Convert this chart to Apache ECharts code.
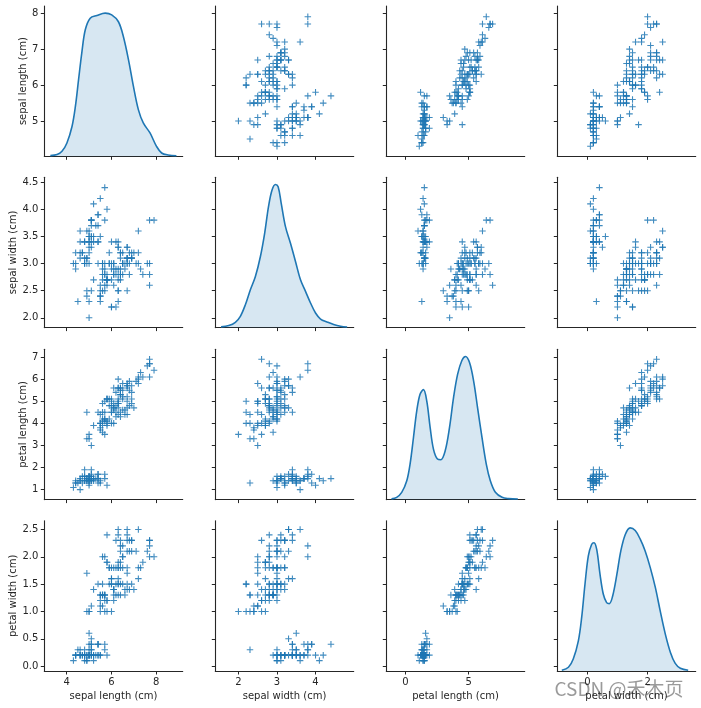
<!DOCTYPE html>
<html>
<head>
<meta charset="utf-8">
<script src="https://cdn.jsdelivr.net/npm/echarts@6/dist/echarts.min.js"></script>
<style>html,body{margin:0;padding:0;background:#fff}#chart{width:701px;height:708px}</style>
</head>
<body>
<div id="chart"></div>
<script>
// Iris measurements (150 samples)
const sepalLength = [5.1,4.9,4.7,4.6,5.0,5.4,4.6,5.0,4.4,4.9,5.4,4.8,4.8,4.3,5.8,5.7,5.4,5.1,5.7,5.1,5.4,5.1,4.6,5.1,4.8,5.0,5.0,5.2,5.2,4.7,4.8,5.4,5.2,5.5,4.9,5.0,5.5,4.9,4.4,5.1,5.0,4.5,4.4,5.0,5.1,4.8,5.1,4.6,5.3,5.0,
7.0,6.4,6.9,5.5,6.5,5.7,6.3,4.9,6.6,5.2,5.0,5.9,6.0,6.1,5.6,6.7,5.6,5.8,6.2,5.6,5.9,6.1,6.3,6.1,6.4,6.6,6.8,6.7,6.0,5.7,5.5,5.5,5.8,6.0,5.4,6.0,6.7,6.3,5.6,5.5,5.5,6.1,5.8,5.0,5.6,5.7,5.7,6.2,5.1,5.7,
6.3,5.8,7.1,6.3,6.5,7.6,4.9,7.3,6.7,7.2,6.5,6.4,6.8,5.7,5.8,6.4,6.5,7.7,7.7,6.0,6.9,5.6,7.7,6.3,6.7,7.2,6.2,6.1,6.4,7.2,7.4,7.9,6.4,6.3,6.1,7.7,6.3,6.4,6.0,6.9,6.7,6.9,5.8,6.8,6.7,6.7,6.3,6.5,6.2,5.9];
const sepalWidth = [3.5,3.0,3.2,3.1,3.6,3.9,3.4,3.4,2.9,3.1,3.7,3.4,3.0,3.0,4.0,4.4,3.9,3.5,3.8,3.8,3.4,3.7,3.6,3.3,3.4,3.0,3.4,3.5,3.4,3.2,3.1,3.4,4.1,4.2,3.1,3.2,3.5,3.6,3.0,3.4,3.5,2.3,3.2,3.5,3.8,3.0,3.8,3.2,3.7,3.3,
3.2,3.2,3.1,2.3,2.8,2.8,3.3,2.4,2.9,2.7,2.0,3.0,2.2,2.9,2.9,3.1,3.0,2.7,2.2,2.5,3.2,2.8,2.5,2.8,2.9,3.0,2.8,3.0,2.9,2.6,2.4,2.4,2.7,2.7,3.0,3.4,3.1,2.3,3.0,2.5,2.6,3.0,2.6,2.3,2.7,3.0,2.9,2.9,2.5,2.8,
3.3,2.7,3.0,2.9,3.0,3.0,2.5,2.9,2.5,3.6,3.2,2.7,3.0,2.5,2.8,3.2,3.0,3.8,2.6,2.2,3.2,2.8,2.8,2.7,3.3,3.2,2.8,3.0,2.8,3.0,2.8,3.8,2.8,2.8,2.6,3.0,3.4,3.1,3.0,3.1,3.1,3.1,2.7,3.2,3.3,3.0,2.5,3.0,3.4,3.0];
const petalLength = [1.4,1.4,1.3,1.5,1.4,1.7,1.4,1.5,1.4,1.5,1.5,1.6,1.4,1.1,1.2,1.5,1.3,1.4,1.7,1.5,1.7,1.5,1.0,1.7,1.9,1.6,1.6,1.5,1.4,1.6,1.6,1.5,1.5,1.4,1.5,1.2,1.3,1.4,1.3,1.5,1.3,1.3,1.3,1.6,1.9,1.4,1.6,1.4,1.5,1.4,
4.7,4.5,4.9,4.0,4.6,4.5,4.7,3.3,4.6,3.9,3.5,4.2,4.0,4.7,3.6,4.4,4.5,4.1,4.5,3.9,4.8,4.0,4.9,4.7,4.3,4.4,4.8,5.0,4.5,3.5,3.8,3.7,3.9,5.1,4.5,4.5,4.7,4.4,4.1,4.0,4.4,4.6,4.0,3.3,4.2,4.2,4.2,4.3,3.0,4.1,
6.0,5.1,5.9,5.6,5.8,6.6,4.5,6.3,5.8,6.1,5.1,5.3,5.5,5.0,5.1,5.3,5.5,6.7,6.9,5.0,5.7,4.9,6.7,4.9,5.7,6.0,4.8,4.9,5.6,5.8,6.1,6.4,5.6,5.1,5.6,6.1,5.6,5.5,4.8,5.4,5.6,5.1,5.1,5.9,5.7,5.2,5.0,5.2,5.4,5.1];
const petalWidth = [0.2,0.2,0.2,0.2,0.2,0.4,0.3,0.2,0.2,0.1,0.2,0.2,0.1,0.1,0.2,0.4,0.4,0.3,0.3,0.3,0.2,0.4,0.2,0.5,0.2,0.2,0.4,0.2,0.2,0.2,0.2,0.4,0.1,0.2,0.2,0.2,0.2,0.1,0.2,0.2,0.3,0.3,0.2,0.6,0.4,0.3,0.2,0.2,0.2,0.2,
1.4,1.5,1.5,1.3,1.5,1.3,1.6,1.0,1.3,1.4,1.0,1.5,1.0,1.4,1.3,1.4,1.5,1.0,1.5,1.1,1.8,1.3,1.5,1.2,1.3,1.4,1.4,1.7,1.5,1.0,1.1,1.0,1.2,1.6,1.5,1.6,1.5,1.3,1.3,1.3,1.2,1.4,1.2,1.0,1.3,1.2,1.3,1.3,1.1,1.3,
2.5,1.9,2.1,1.8,2.2,2.1,1.7,1.8,1.8,2.5,2.0,1.9,2.1,2.0,2.4,2.3,1.8,2.2,2.3,1.5,2.3,2.0,2.0,1.8,2.1,1.8,1.8,1.8,2.1,1.6,1.9,2.0,2.2,1.5,1.4,2.3,2.4,1.8,1.8,2.1,2.4,2.3,1.9,2.3,2.5,2.3,1.9,2.0,2.3,1.8];

const varNames = ['sepal length (cm)', 'sepal width (cm)', 'petal length (cm)', 'petal width (cm)'];

// Density curves: [value, height relative to peak]
const kdeSepalLength = [[3.27,0.005],[3.57,0.012],[3.79,0.035],[4.01,0.093],[4.24,0.21],[4.39,0.35],[4.53,0.535],[4.68,0.73],[4.83,0.884],[5.05,0.965],[5.35,0.984],[5.72,1.0],[6.01,0.988],[6.31,0.94],[6.53,0.837],[6.76,0.674],[6.98,0.488],[7.2,0.326],[7.42,0.233],[7.72,0.163],[8.01,0.07],[8.24,0.023],[8.53,0.009],[8.9,0.004]];
const kdeSepalWidth = [[1.55,0.005],[1.75,0.014],[1.92,0.037],[2.05,0.079],[2.18,0.16],[2.31,0.265],[2.44,0.357],[2.57,0.497],[2.68,0.659],[2.78,0.845],[2.87,0.96],[2.96,1.0],[3.03,0.984],[3.11,0.868],[3.22,0.705],[3.35,0.589],[3.48,0.462],[3.61,0.334],[3.74,0.253],[3.87,0.172],[4.0,0.102],[4.13,0.06],[4.3,0.039],[4.47,0.021],[4.65,0.009],[4.82,0.004]];
const kdePetalLength = [[-1.1,0.005],[-0.69,0.016],[-0.29,0.051],[0.11,0.132],[0.37,0.248],[0.64,0.434],[0.9,0.62],[1.16,0.736],[1.43,0.768],[1.69,0.69],[1.96,0.503],[2.22,0.353],[2.54,0.283],[2.8,0.278],[3.15,0.341],[3.49,0.503],[3.81,0.712],[4.13,0.875],[4.47,0.972],[4.76,1.0],[5.08,0.956],[5.4,0.828],[5.71,0.643],[6.06,0.434],[6.4,0.248],[6.72,0.132],[7.12,0.051],[7.65,0.016],[8.17,0.007],[8.9,0.004]];
const kdePetalWidth = [[-0.85,0.005],[-0.63,0.026],[-0.47,0.084],[-0.3,0.211],[-0.19,0.374],[-0.08,0.606],[0.03,0.803],[0.14,0.884],[0.22,0.896],[0.31,0.849],[0.42,0.675],[0.53,0.536],[0.64,0.478],[0.73,0.471],[0.84,0.524],[0.98,0.675],[1.11,0.838],[1.26,0.954],[1.42,1.0],[1.59,0.981],[1.76,0.919],[1.92,0.838],[2.09,0.722],[2.26,0.582],[2.42,0.42],[2.59,0.258],[2.76,0.13],[2.92,0.053],[3.09,0.019],[3.35,0.005]];

// Axis limits and tick labels
const colRange = [[3.0, 9.18], [1.40, 4.99], [-1.51, 9.44], [-1.0, 3.6]];
const rowRange = [[4.02, 8.2], [1.82, 4.59], [0.55, 7.35], [-0.09, 2.66]];
const xTickValues = [[4, 6, 8], [2, 3, 4], [0, 5], [0, 2]];
const yTickValues = [[5, 6, 7, 8], [2.0, 2.5, 3.0, 3.5, 4.0, 4.5], [1, 2, 3, 4, 5, 6, 7], [0.0, 0.5, 1.0, 1.5, 2.0, 2.5]];
const yTickDecimals = [0, 1, 0, 1];

const cols = [sepalLength, sepalWidth, petalLength, petalWidth];
const kdes = [kdeSepalLength, kdeSepalWidth, kdePetalLength, kdePetalWidth];

const INK = '#262626';
const BLUE = '#1f77b4';
const FONT = 'DejaVu Sans';
const gridLeft = [44.3, 215.3, 386.3, 557.3];
const gridTop = [6, 177.3, 349.3, 520.7];
const gridW = 138.4, gridH = 150.3;
const yNameGap = [16, 26, 16, 26];

const grids = [], xAxes = [], yAxes = [], series = [];
for (let r = 0; r < 4; r++) {
  for (let c = 0; c < 4; c++) {
    const gi = grids.length;
    grids.push({ left: gridLeft[c], top: gridTop[r], width: gridW, height: gridH, containLabel: false });
    xAxes.push({
      type: 'value', gridIndex: gi, min: colRange[c][0], max: colRange[c][1],
      axisLine: { show: true, onZero: false, lineStyle: { color: INK, width: 1.1 } },
      axisTick: { show: true, inside: false, length: 3.5, customValues: xTickValues[c], lineStyle: { color: INK, width: 1 } },
      axisLabel: { show: r === 3, customValues: xTickValues[c], margin: 6, fontSize: 10, fontFamily: FONT, color: INK,
        formatter: v => String(v) },
      splitLine: { show: false },
      name: r === 3 ? varNames[c] : '', nameLocation: 'middle', nameGap: 20,
      nameTextStyle: { fontSize: 10, fontFamily: FONT, color: INK }
    });
    const xi = xAxes.length - 1;
    yAxes.push({
      type: 'value', gridIndex: gi, min: rowRange[r][0], max: rowRange[r][1],
      axisLine: { show: true, onZero: false, lineStyle: { color: INK, width: 1.1 } },
      axisTick: { show: true, inside: false, length: 3.5, customValues: yTickValues[r], lineStyle: { color: INK, width: 1 } },
      axisLabel: { show: c === 0, customValues: yTickValues[r], margin: 6, fontSize: 10, fontFamily: FONT, color: INK,
        formatter: v => Number(v).toFixed(yTickDecimals[r]) },
      splitLine: { show: false },
      name: c === 0 ? varNames[r] : '', nameLocation: 'middle', nameGap: yNameGap[r], nameRotate: 90,
      nameTextStyle: { fontSize: 10, fontFamily: FONT, color: INK }
    });
    let yi = yAxes.length - 1;
    if (r === c) {
      yAxes.push({ type: 'value', gridIndex: gi, min: 0, max: 1.05, show: false, splitLine: { show: false } });
      yi = yAxes.length - 1;
      series.push({
        type: 'line', xAxisIndex: xi, yAxisIndex: yi, data: kdes[c], smooth: 0.35,
        showSymbol: false, silent: true,
        lineStyle: { color: BLUE, width: 1.6 },
        areaStyle: { color: 'rgba(31,119,180,0.25)' }
      });
    } else {
      series.push({
        type: 'scatter', xAxisIndex: xi, yAxisIndex: yi, silent: true,
        data: cols[c].map((v, i) => [v, cols[r][i]]),
        symbol: 'path://M0,2.5h6v1h-6z M2.5,0h1v6h-1z', symbolSize: 6.5,
        itemStyle: { color: BLUE, opacity: 0.85 }
      });
    }
  }
}

const chart = echarts.init(document.getElementById('chart'), null, { renderer: 'canvas' });
chart.setOption({
  animation: false,
  backgroundColor: '#ffffff',
  grid: grids, xAxis: xAxes, yAxis: yAxes, series: series,
  graphic: [{
    type: 'text', left: 554, top: 679, silent: true,
    style: { text: 'CSDN @禾木页', fontSize: 19, fontFamily: 'Noto Sans CJK SC', fill: 'rgba(120,120,120,0.75)',
      stroke: 'rgba(255,255,255,0.8)', lineWidth: 1 }
  }]
});
</script>
</body>
</html>
